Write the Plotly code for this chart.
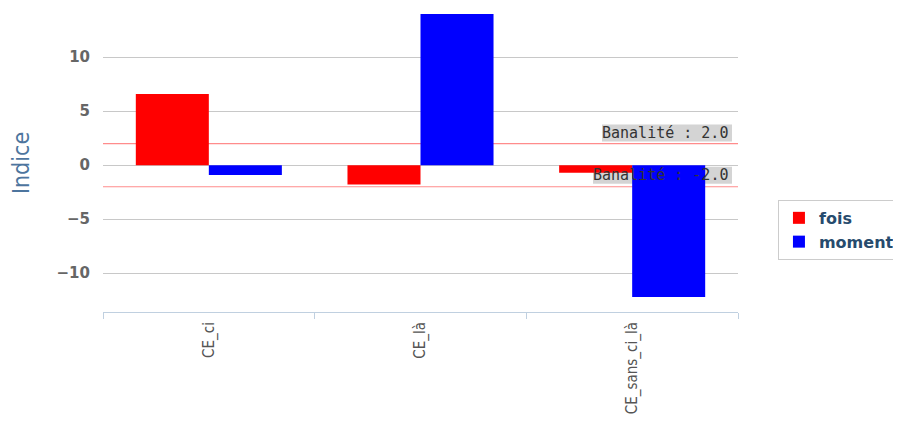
import plotly.graph_objects as go

categories = ["CE_ci", "CE_là", "CE_sans_ci_là"]
fois = [6.6, -1.8, -0.7]
moment = [-0.9, 14.0, -12.2]
banalite = [2.0, -2.0]
y_ticks = [-10, -5, 0, 5, 10]

fig = go.Figure()
fig.add_trace(go.Bar(name="fois", x=categories, y=fois, marker=dict(color="#ff0000", line=dict(width=0))))
fig.add_trace(go.Bar(name="moment", x=categories, y=moment, marker=dict(color="#0000ff", line=dict(width=0))))

for b in banalite:
    # red reference line (behind bars)
    fig.add_hline(y=b, line=dict(color="#ff8c8c", width=1.2), layer="below")

for i, b in enumerate(banalite):
    label = "Banalité : %.1f" % b
    # grey label background (behind bars)
    w = 9 * len(label) + 4
    fig.add_shape(type="rect", xref="paper", xsizemode="pixel", xanchor=1, x0=-6 - w, x1=-6,
                  yref="y", ysizemode="pixel", yanchor=b, y0=2 + i, y1=19 + i,
                  fillcolor="#d4d4d4", line=dict(width=0), layer="below")
    fig.add_annotation(xref="paper", x=1, yref="y", y=b, xanchor="right", yanchor="middle",
                       text=label, showarrow=False, xshift=-8, yshift=11 + i,
                       font=dict(family="DejaVu Sans Mono", size=15, color="#333333"))

fig.update_layout(
    width=885, height=411,
    margin=dict(l=95, r=155, t=6, b=107, autoexpand=False),
    plot_bgcolor="white", paper_bgcolor="white",
    barmode="group", bargap=0.31, bargroupgap=0,
    showlegend=True,
    legend=dict(xref="container", yref="container", x=0.870, y=0.533,
                xanchor="left", yanchor="top",
                bgcolor="white", bordercolor="#cccccc", borderwidth=1,
                font=dict(family="DejaVu Sans", size=16, color="#274b6d", weight="bold"),
                itemwidth=30, tracegroupgap=2),
    xaxis=dict(tickangle=-90, tickson="boundaries", ticks="outside", ticklen=6,
               tickcolor="#c0d0e0", showline=True, linecolor="#c0d0e0", linewidth=1,
               showgrid=False, ticklabelstandoff=3, automargin=False,
               tickfont=dict(family="DejaVu Sans Condensed", size=15, color="#555555")),
    yaxis=dict(range=[-13.6, 14.0], tickvals=y_ticks, ticktext=[str(v).replace("-", "−") for v in y_ticks],
               showgrid=True, gridcolor="#c8c8c8", gridwidth=1, zeroline=False,
               showline=False, ticks="", ticklabelstandoff=12, automargin=False,
               tickfont=dict(family="DejaVu Sans", size=15, color="#666666", weight="bold"),
               title=dict(text="Indice", standoff=26,
                          font=dict(family="DejaVu Sans Condensed", size=23, color="#4d759e"))),
)

fig.write_html("out.html")
